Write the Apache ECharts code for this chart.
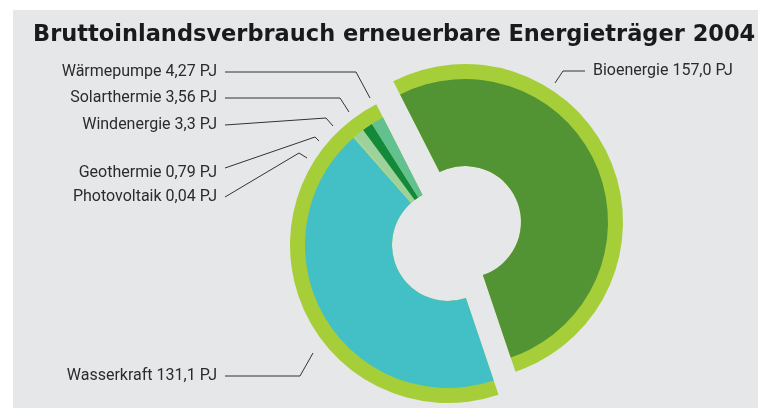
<!DOCTYPE html>
<html>
<head>
<meta charset="utf-8">
<script src="https://cdn.jsdelivr.net/npm/echarts@6/dist/echarts.min.js"></script>
<style>html,body{margin:0;padding:0;background:#fff;}#c{width:758px;height:411px;}</style>
</head>
<body>
<div id="c"></div>
<script>
// ---- data ----
const titleText = 'Bruttoinlandsverbrauch erneuerbare Energieträger 2004';
const bioCategory = 'Bioenergie';
const bioValue = 157.0;
const otherCategories = ['Wasserkraft', 'Photovoltaik', 'Geothermie', 'Windenergie', 'Solarthermie', 'Wärmepumpe'];
const otherValues = [131.1, 0.04, 0.79, 3.3, 3.56, 4.27];
const valueLabels = { 'Bioenergie': '157,0', 'Wasserkraft': '131,1', 'Photovoltaik': '0,04', 'Geothermie': '0,79', 'Windenergie': '3,3', 'Solarthermie': '3,56', 'Wärmepumpe': '4,27' };
const unit = 'PJ';

// ---- styles / layout ----
const colors = { 'Bioenergie': '#529434', 'Wasserkraft': '#42c0c6', 'Photovoltaik': '#b3dcae', 'Geothermie': '#a7d7a0', 'Windenergie': '#9ed29c', 'Solarthermie': '#138a3b', 'Wärmepumpe': '#62c18e' };
const ringColor = '#a6ce39';
const bg = '#e6e7e8';
const startAngle = 117;
const otherCenter = [448, 245];
const bioCenter = [465, 222];
const rHole = 56, rInner = 143, rOuter = 158;
const labelFont = 'Roboto, "Liberation Sans", Arial, sans-serif';
// label anchor (x,y) and leader line points
const labelPos = {
  'Bioenergie':   { x: 593, y: 71, align: 'left', line: [[555, 83], [563, 71], [585, 71]] },
  'Wärmepumpe':   { x: 217, y: 72, align: 'right', line: [[370, 98], [356, 72], [225, 72]] },
  'Solarthermie': { x: 217, y: 98, align: 'right', line: [[349, 112], [340, 98], [225, 98]] },
  'Windenergie':  { x: 217, y: 125, align: 'right', line: [[333, 126], [326, 118], [225, 125]] },
  'Geothermie':   { x: 217, y: 173, align: 'right', line: [[319, 141], [315, 137], [225, 168]] },
  'Photovoltaik': { x: 217, y: 197, align: 'right', line: [[307, 158], [299, 153], [225, 197]] },
  'Wasserkraft':  { x: 217, y: 376, align: 'right', line: [[313, 353], [300, 376], [225, 376]] }
};

const otherSum = otherValues.reduce((a, b) => a + b, 0);
const clear = 'rgba(0,0,0,0)';
const hidden = { label: { show: false }, labelLine: { show: false }, itemStyle: { color: clear } };

function realItem(name, value, color) {
  return {
    name: name, value: value,
    itemStyle: { color: color },
    label: { show: true },
    labelLine: { show: true }
  };
}

const labelCommon = {
  show: true,
  formatter: p => p.name + ' ' + valueLabels[p.name] + ' ' + unit,
  fontFamily: labelFont,
  fontSize: 16,
  color: '#2b2b2b'
};
const labelLineCommon = { show: true, lineStyle: { color: '#333', width: 1 } };

function makeLayout(names) {
  return function (params) {
    const lp = labelPos[names[params.dataIndex]];
    if (!lp) return {};
    return {
      x: lp.x, y: lp.y, align: lp.align, verticalAlign: 'middle',
      labelLinePoints: lp.line
    };
  };
}

const base = {
  type: 'pie', startAngle: startAngle, clockwise: true, silent: true,
  avoidLabelOverlap: false, animation: false, emphasis: { disabled: true }
};

const otherNames = ['_b'].concat(otherCategories);
const bioNames = [bioCategory, '_o'];

const option = {
  backgroundColor: '#ffffff',
  animation: false,
  title: {
    text: titleText, left: 28, top: 19,
    textStyle: { fontFamily: '"DejaVu Sans", sans-serif', fontWeight: 'bold', fontSize: 22.5, color: '#1a1a1a' }
  },
  graphic: [{ type: 'rect', z: -10, silent: true, shape: { x: 13, y: 10, width: 745, height: 398 }, style: { fill: bg } }],
  series: [
    // outer lime rings
    Object.assign({}, base, {
      center: otherCenter, radius: [rHole, rOuter],
      label: { show: false }, labelLine: { show: false },
      data: [Object.assign({ name: '_b', value: bioValue }, hidden), { name: '_o', value: otherSum, itemStyle: { color: ringColor } }]
    }),
    Object.assign({}, base, {
      center: bioCenter, radius: [rHole, rOuter],
      label: { show: false }, labelLine: { show: false },
      data: [{ name: '_b', value: bioValue, itemStyle: { color: ringColor } }, Object.assign({ name: '_o', value: otherSum }, hidden)]
    }),
    // colored inner donuts
    Object.assign({}, base, {
      center: otherCenter, radius: [rHole, rInner],
      label: labelCommon, labelLine: labelLineCommon, labelLayout: makeLayout(otherNames),
      data: [Object.assign({ name: '_b', value: bioValue }, hidden)].concat(
        otherCategories.map((c, i) => realItem(c, otherValues[i], colors[c])))
    }),
    Object.assign({}, base, {
      center: bioCenter, radius: [rHole, rInner],
      label: labelCommon, labelLine: labelLineCommon, labelLayout: makeLayout(bioNames),
      data: [realItem(bioCategory, bioValue, colors[bioCategory]), Object.assign({ name: '_o', value: otherSum }, hidden)]
    })
  ]
};

const chart = echarts.init(document.getElementById('c'), null, { renderer: 'canvas' });
chart.setOption(option);
</script>
</body>
</html>
